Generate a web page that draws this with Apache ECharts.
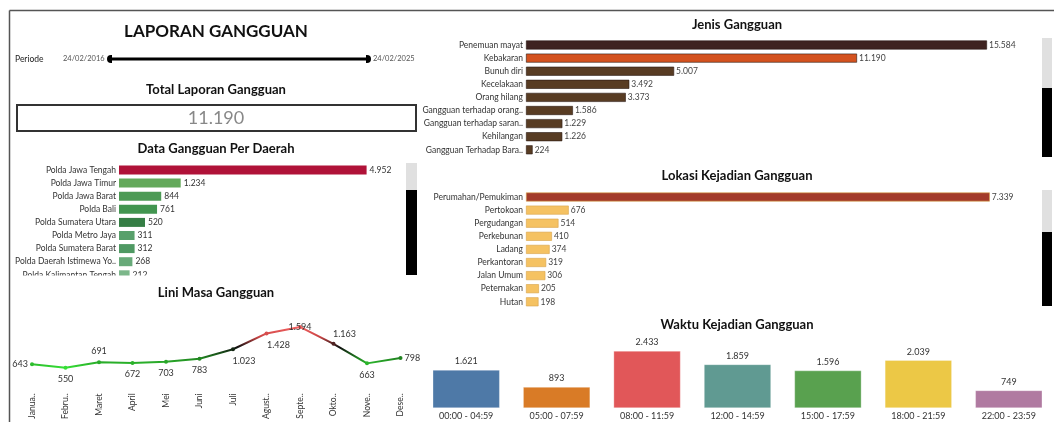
<!DOCTYPE html>
<html><head><meta charset="utf-8">
<script src="https://cdn.jsdelivr.net/npm/echarts@6/dist/echarts.min.js"></script>
<style>html,body{margin:0;padding:0;background:#fff;overflow:hidden}#c{width:1054px;height:422px}</style>
</head><body><div id="c"></div>
<script>
// ---- data ----
const daerahCategories = ['Polda Jawa Tengah','Polda Jawa Timur','Polda Jawa Barat','Polda Bali','Polda Sumatera Utara','Polda Metro Jaya','Polda Sumatera Barat','Polda Daerah Istimewa Yo..','Polda Kalimantan Tengah'];
const daerahValues = [4952,1234,844,761,520,311,312,268,212];
const jenisCategories = ['Penemuan mayat','Kebakaran','Bunuh diri','Kecelakaan','Orang hilang','Gangguan terhadap orang..','Gangguan terhadap saran..','Kehilangan','Gangguan Terhadap Bara..'];
const jenisValues = [15584,11190,5007,3492,3373,1586,1229,1226,224];
const lokasiCategories = ['Perumahan/Pemukiman','Pertokoan','Pergudangan','Perkebunan','Ladang','Perkantoran','Jalan Umum','Peternakan','Hutan'];
const lokasiValues = [7339,676,514,410,374,319,306,205,198];
const waktuCategories = ['00:00 - 04:59','05:00 - 07:59','08:00 - 11:59','12:00 - 14:59','15:00 - 17:59','18:00 - 21:59','22:00 - 23:59'];
const waktuValues = [1621,893,2433,1859,1596,2039,749];
const bulanCategories = ['Janua..','Febru..','Maret','April','Mei','Juni','Juli','Agust..','Septe..','Okto..','Nove..','Dese..'];
const bulanValues = [643,550,691,672,703,783,1023,1428,1594,1163,663,798];
const totalLaporan = 11190;
const periodeAwal = '24/02/2016';
const periodeAkhir = '24/02/2025';

// ---- styles ----
const daerahColors = ['#b01238','#63a95a','#4c9a55','#429550','#357e45','#58a06b','#4f9963','#68aa79','#7cb78a'];
const jenisColors = ['#3e2320','#d4521f','#583c23','#583c23','#583c23','#583c23','#583c23','#583c23','#583c23'];
const lokasiColors = ['#a33b2a','#f5c262','#f5c262','#f5c262','#f5c262','#f5c262','#f5c262','#f5c262','#f5c262'];
const waktuColors = ['#4e79a7','#d97b26','#e15759','#609a92','#59a14f','#ecc846','#b07aa1'];
const bulanLabelPos = [
  {position:'left', distance:2},
  {position:'bottom'},
  {position:'top'},
  {position:'bottom'},
  {position:'bottom'},
  {position:'bottom'},
  {position:'bottom', offset:[11,0]},
  {position:'bottom', offset:[12,0]},
  {position:'inside'},
  {position:'top', offset:[11,2]},
  {position:'bottom'},
  {position:'right', distance:2}
];

const fmt = v => String(v).replace(/\B(?=(\d{3})+(?!\d))/g, '.');
const FONT = 'Lato, "Open Sans", sans-serif';

function hbarAxes(gridIndex, cats, max) {
  return {
    x: {type:'value', gridIndex, min:0, max, show:false},
    y: {type:'category', gridIndex, data:cats, inverse:true,
        axisLine:{show:false}, axisTick:{show:false}, splitLine:{show:false},
        axisLabel:{fontSize:8.5, color:'#333', margin:3, fontFamily:FONT}}
  };
}
const a0 = hbarAxes(0, daerahCategories, 5000);
const a1 = hbarAxes(1, jenisCategories, 16000);
const a2 = hbarAxes(2, lokasiCategories, 7500);

const ROW = 13.1;
const chart = echarts.init(document.getElementById('c'), null, {renderer:'canvas'});
const titleFont = 'bold 13px ' + FONT;

const option = {
  animation:false,
  textStyle:{fontFamily:FONT},
  grid:[
    {left:119, top:170-ROW/2, width:250, height:ROW*9},
    {left:526, top:45-ROW/2, width:473.3, height:ROW*9},
    {left:526, top:197-ROW/2, width:474, height:ROW*9},
    {left:421, top:408-58.6, width:633, height:58.6},
    {left:15.25, top:311, width:402, height:80}
  ],
  xAxis:[a0.x, a1.x, a2.x,
    {type:'category', gridIndex:3, data:waktuCategories, axisLine:{show:false}, axisTick:{show:false},
      axisLabel:{fontSize:9, color:'#333', margin:4, fontFamily:FONT}},
    {type:'category', gridIndex:4, data:bulanCategories, boundaryGap:true, axisLine:{show:false}, axisTick:{show:false},
      axisLabel:{fontSize:8.5, color:'#333', margin:4, rotate:90, fontFamily:FONT}}
  ],
  yAxis:[a0.y, a1.y, a2.y,
    {type:'value', gridIndex:3, min:0, max:2500, show:false},
    {type:'value', gridIndex:4, min:0, max:2000, show:false}
  ],
  visualMap:[{type:'continuous', show:false, seriesIndex:4, dimension:1, min:550, max:1600,
    inRange:{color:['#35e035','#1f7d1f','#111111','#c94444','#f26060']}}],
  series:[
    {type:'bar', xAxisIndex:0, yAxisIndex:0, data:daerahValues, barWidth:9,
      itemStyle:{color:p=>daerahColors[p.dataIndex]},
      label:{show:true, position:'right', distance:3, fontSize:8.5, color:'#333', formatter:p=>fmt(p.value)}},
    {type:'bar', xAxisIndex:1, yAxisIndex:1, data:jenisValues, barWidth:9,
      itemStyle:{color:p=>jenisColors[p.dataIndex], borderColor:'#2a1a14', borderWidth:0.6},
      label:{show:true, position:'right', distance:2, fontSize:8.5, color:'#444', formatter:p=>fmt(p.value)}},
    {type:'bar', xAxisIndex:2, yAxisIndex:2, data:lokasiValues, barWidth:9,
      itemStyle:{color:p=>lokasiColors[p.dataIndex], borderColor:'#d6a24a', borderWidth:0.6},
      label:{show:true, position:'right', distance:2, fontSize:8.5, color:'#444', formatter:p=>fmt(p.value)}},
    {type:'bar', xAxisIndex:3, yAxisIndex:3, data:waktuValues, barCategoryGap:'26%',
      itemStyle:{color:p=>waktuColors[p.dataIndex], borderColor:'rgba(255,255,255,0.6)', borderWidth:0.5},
      label:{show:true, position:'top', distance:4, fontSize:9, color:'#333', formatter:p=>fmt(p.value)}},
    {type:'line', xAxisIndex:4, yAxisIndex:4,
      data:bulanValues.map((v,i)=>({value:v, label:bulanLabelPos[i]})),
      symbol:'circle', symbolSize:4, lineStyle:{width:2},
      label:{show:true, fontSize:9, color:'#333', formatter:p=>fmt(p.value)}}
  ],
  graphic:[
    // frame
    {type:'line', shape:{x1:9.5,y1:10.5,x2:1054,y2:10.5}, style:{stroke:'#555',lineWidth:1.5}, z:100},
    {type:'line', shape:{x1:9.5,y1:10.5,x2:9.5,y2:422}, style:{stroke:'#555',lineWidth:1.5}, z:100},
    // clip cover for left bar list
    {type:'rect', shape:{x:11,y:275.5,width:400,height:10}, style:{fill:'#fff'}, z:90},
    // titles
    {type:'text', x:216, y:32, style:{text:'LAPORAN GANGGUAN', font:'bold 17px '+FONT, fill:'#111', textAlign:'center', textVerticalAlign:'middle'}, z:100},
    {type:'text', x:216, y:90, style:{text:'Total Laporan Gangguan', font:titleFont, fill:'#111', textAlign:'center', textVerticalAlign:'middle'}, z:100},
    {type:'text', x:216, y:149, style:{text:'Data Gangguan Per Daerah', font:titleFont, fill:'#111', textAlign:'center', textVerticalAlign:'middle'}, z:100},
    {type:'text', x:216, y:293, style:{text:'Lini Masa Gangguan', font:titleFont, fill:'#111', textAlign:'center', textVerticalAlign:'middle'}, z:100},
    {type:'text', x:737, y:25, style:{text:'Jenis Gangguan', font:titleFont, fill:'#111', textAlign:'center', textVerticalAlign:'middle'}, z:100},
    {type:'text', x:737, y:176, style:{text:'Lokasi Kejadian Gangguan', font:titleFont, fill:'#111', textAlign:'center', textVerticalAlign:'middle'}, z:100},
    {type:'text', x:737, y:325, style:{text:'Waktu Kejadian Gangguan', font:titleFont, fill:'#111', textAlign:'center', textVerticalAlign:'middle'}, z:100},
    // periode slider
    {type:'text', x:15, y:59, style:{text:'Periode', font:'8.5px '+FONT, fill:'#222', textVerticalAlign:'middle'}, z:100},
    {type:'text', x:63, y:59, style:{text:periodeAwal, font:'7.5px '+FONT, fill:'#555', textVerticalAlign:'middle'}, z:100},
    {type:'text', x:373, y:59, style:{text:periodeAkhir, font:'7.5px '+FONT, fill:'#555', textVerticalAlign:'middle'}, z:100},
    {type:'line', shape:{x1:110,y1:59,x2:368,y2:59}, style:{stroke:'#000',lineWidth:3}, z:100},
    {type:'rect', shape:{x:107,y:55,width:5,height:8,r:[4,0,0,4]}, style:{fill:'#000'}, z:100},
    {type:'rect', shape:{x:366,y:55,width:5,height:8,r:[0,4,4,0]}, style:{fill:'#000'}, z:100},
    // total box
    {type:'rect', shape:{x:17,y:105,width:399,height:26}, style:{fill:'#fff', stroke:'#333', lineWidth:2}, z:100},
    {type:'text', x:216, y:118.5, style:{text:fmt(totalLaporan), font:'18px '+FONT, fill:'#888', textAlign:'center', textVerticalAlign:'middle'}, z:101},
    // scrollbars
    {type:'rect', shape:{x:406,y:163,width:11,height:27}, style:{fill:'#e0e0e0'}, z:100},
    {type:'rect', shape:{x:406,y:190,width:11,height:85}, style:{fill:'#000'}, z:100},
    {type:'rect', shape:{x:1042,y:38,width:10,height:50}, style:{fill:'#e0e0e0'}, z:100},
    {type:'rect', shape:{x:1042,y:88,width:10,height:69}, style:{fill:'#000'}, z:100},
    {type:'rect', shape:{x:1042,y:190,width:10,height:42}, style:{fill:'#e0e0e0'}, z:100},
    {type:'rect', shape:{x:1042,y:232,width:10,height:74}, style:{fill:'#000'}, z:100}
  ]
};
chart.setOption(option);
</script>
</body></html>
